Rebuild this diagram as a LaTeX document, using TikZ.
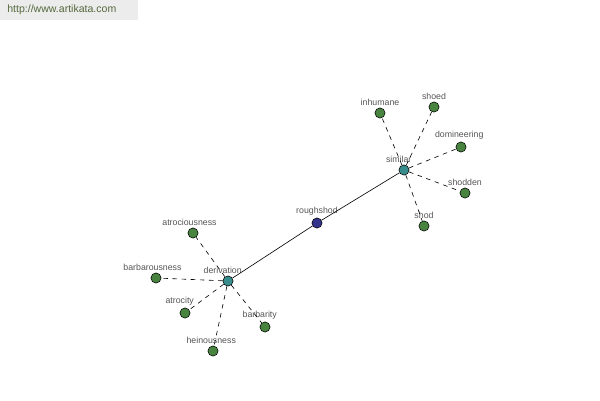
\documentclass[tikz,border=0pt]{standalone}
\usepackage{fontspec}
\setmainfont{Liberation Sans}
\definecolor{leafgreen}{RGB}{72,132,64}
\definecolor{hubteal}{RGB}{56,140,140}
\definecolor{rootblue}{RGB}{52,52,140}
\definecolor{labelgray}{RGB}{85,85,85}
\definecolor{urlback}{RGB}{236,236,236}
\definecolor{urltext}{RGB}{84,104,60}
\tikzset{
    word/.style={circle, draw=black, line width=0.3pt, inner sep=0pt, minimum size=5.8pt},
    leaf/.style={word, fill=leafgreen},
    hub/.style={word, fill=hubteal},
    root/.style={word, fill=rootblue},
    every label/.style={font=\fontsize{5}{6}\selectfont, text=labelgray, inner sep=1pt},
    link/.style={line width=0.35pt},
    rel/.style={line width=0.35pt, dash pattern=on 2.6pt off 2.6pt}
}
\begin{document}
\begin{tikzpicture}[x=0.02cm, y=-0.02cm]
    \useasboundingbox (0,0) rectangle (600,400);
    \fill[urlback] (0,0) rectangle (138,20);
    \node[anchor=west, inner sep=0pt, font=\fontsize{6}{7}\selectfont, text=urltext] (url) at (7,10) {http://www.artikata.com};

    % main words
    \node[root, label={above:roughshod}] (roughshod) at (317,223) {};
    \node[hub, label={[xshift=-3pt]above:similar}] (similar) at (404,170) {};
    \node[hub, label={[xshift=-3pt]above:derivation}] (derivation) at (228,281) {};

    % similar words
    \node[leaf, label={above:inhumane}] (inhumane) at (380,113) {};
    \node[leaf, label={above:shoed}] (shoed) at (434,107) {};
    \node[leaf, label={[xshift=-1pt]above:domineering}] (domineering) at (461,147) {};
    \node[leaf, label={above:shodden}] (shodden) at (465,193) {};
    \node[leaf, label={above:shod}] (shod) at (424,226) {};

    % derived words
    \node[leaf, label={[xshift=-2pt]above:atrociousness}] (atrociousness) at (193,233) {};
    \node[leaf, label={[xshift=-2pt]above:barbarousness}] (barbarousness) at (156,278) {};
    \node[leaf, label={[xshift=-3pt]above:atrocity}] (atrocity) at (185,313) {};
    \node[leaf, label={[xshift=-3pt]above:barbarity}] (barbarity) at (265,327) {};
    \node[leaf, label={[xshift=-1pt]above:heinousness}] (heinousness) at (213,351) {};

    \draw[link] (similar) -- (roughshod);
    \draw[link] (roughshod) -- (derivation);
    \foreach \w in {inhumane, shoed, domineering, shodden, shod}
        \draw[rel] (similar) -- (\w);
    \foreach \w in {atrociousness, barbarousness, atrocity, barbarity, heinousness}
        \draw[rel] (derivation) -- (\w);
\end{tikzpicture}
\end{document}
